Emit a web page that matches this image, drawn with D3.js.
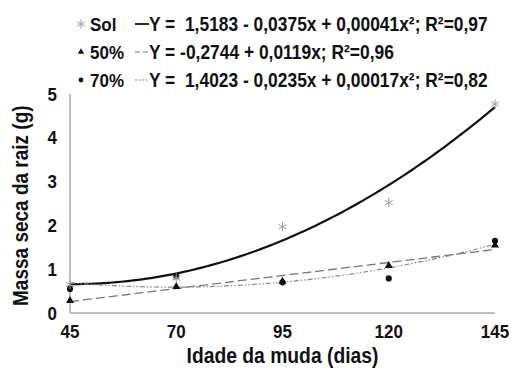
<!DOCTYPE html>
<meta charset="utf-8">
<script src="https://d3js.org/d3.v7.min.js"></script>
<style>
  body { margin: 0; background: #fff; }
  text { font-family: "Liberation Sans", Arial, sans-serif; font-weight: bold; fill: #111; }
</style>
<div id="chart"></div>
<script>

// data
var days = [45, 70, 95, 120, 145];
var sol = [0.65, 0.80, 1.97, 2.52, 4.77];
var p50 = [0.28, 0.60, 0.72, 1.08, 1.55];
var p70 = [0.55, 0.84, 0.70, 0.79, 1.65];
var yTicks = [0, 1, 2, 3, 4, 5];

// fitted equations as given in the legend (intercept, x, x^2)
var coefSol = [1.5183, -0.0375, 0.00041];
var coef50 = [-0.2744, 0.0119, 0];
var coef70 = [1.4023, -0.0235, 0.00017];
var legendNames = ["Sol", "50%", "70%"];
var legendEqs = [
  "Y =  1,5183 - 0,0375x + 0,00041x²; R²=0,97",
  "Y = -0,2744 + 0,0119x; R²=0,96",
  "Y =  1,4023 - 0,0235x + 0,00017x²; R²=0,82"
];

var width = 511, height = 375;
var margin = {top: 94, right: 16, bottom: 62, left: 70};
var stretch = 1.12; // the scanned text is a bit taller than wide

var svg = d3.select("#chart").append("svg")
  .attr("width", width)
  .attr("height", height);

var x = d3.scaleLinear().domain([45, 145]).range([margin.left, width - margin.right]);
var y = d3.scaleLinear().domain([0, 5]).range([height - margin.bottom, margin.top]);

function place(px, py) {
  return "translate(" + px + "," + py + ") scale(1," + stretch + ")";
}

// axes
svg.append("line")
  .attr("x1", x(45)).attr("x2", x(145))
  .attr("y1", y(0)).attr("y2", y(0))
  .attr("stroke", "#aaa").attr("stroke-width", 1.5);
svg.append("line")
  .attr("x1", x(45)).attr("x2", x(45))
  .attr("y1", y(0)).attr("y2", y(5))
  .attr("stroke", "#aaa").attr("stroke-width", 1.5);

svg.selectAll(".ytick").data(yTicks).enter().append("text")
  .attr("transform", function(d) { return place(x(45) - 13, y(d)); })
  .attr("dy", "0.35em")
  .attr("text-anchor", "end")
  .style("font-size", "17px")
  .text(function(d) { return d; });

svg.selectAll(".xtick").data(days).enter().append("text")
  .attr("transform", function(d) { return place(x(d), y(0) + 25); })
  .attr("text-anchor", "middle")
  .style("font-size", "17px")
  .text(function(d) { return d; });

svg.append("text")
  .attr("transform", place((x(45) + x(145)) / 2, 363))
  .attr("text-anchor", "middle")
  .style("font-size", "19.3px")
  .text("Idade da muda (dias)");

svg.append("text")
  .attr("transform", "translate(28," + y(2.45) + ") rotate(-90) scale(1," + stretch + ")")
  .attr("text-anchor", "middle")
  .style("font-size", "19px")
  .text("Massa seca da raiz  (g)");

// fitted curves
function curve(c) {
  return d3.range(45, 145.5, 1).map(function(t) {
    return [t, c[0] + c[1] * t + c[2] * t * t];
  });
}
var line = d3.line()
  .x(function(d) { return x(d[0]); })
  .y(function(d) { return y(d[1]); });

var styles = [
  {coef: coefSol, stroke: "#111", width: 2.2, dash: null},
  {coef: coef50, stroke: "#777", width: 1.3, dash: "9,4"},
  {coef: coef70, stroke: "#888", width: 1.2, dash: "5,2,1.5,2,1.5,2"}
];
styles.forEach(function(s) {
  svg.append("path")
    .datum(curve(s.coef))
    .attr("fill", "none")
    .attr("stroke", s.stroke)
    .attr("stroke-width", s.width)
    .attr("stroke-dasharray", s.dash)
    .attr("d", line);
});

// markers
var star = d3.symbol().type(d3.symbolAsterisk).size(60);
var tri = d3.symbol().type(d3.symbolTriangle).size(28);
var dot = d3.symbol().type(d3.symbolCircle).size(30);

svg.selectAll(".p70").data(days).enter().append("path")
  .attr("d", dot)
  .attr("fill", "#111")
  .attr("transform", function(d, i) { return "translate(" + x(d) + "," + y(p70[i]) + ")"; });
svg.selectAll(".p50").data(days).enter().append("path")
  .attr("d", tri)
  .attr("fill", "#111")
  .attr("transform", function(d, i) { return "translate(" + x(d) + "," + y(p50[i]) + ")"; });
svg.selectAll(".sol").data(days).enter().append("path")
  .attr("d", star)
  .attr("fill", "none")
  .attr("stroke", "#999")
  .attr("stroke-width", 1)
  .attr("transform", function(d, i) { return "translate(" + x(d) + "," + y(sol[i]) + ")"; });

// legend
var legY = [24, 52, 80];
var legMarks = [star, d3.symbol().type(d3.symbolTriangle).size(18), d3.symbol().type(d3.symbolCircle).size(18)];
legendNames.forEach(function(n, i) {
  var g = svg.append("g").attr("transform", "translate(0," + legY[i] + ")");
  var m = g.append("path").attr("d", legMarks[i]).attr("transform", "translate(81,0)");
  if (i === 0) m.attr("fill", "none").attr("stroke", "#999").attr("stroke-width", 1);
  else m.attr("fill", "#111");
  g.append("text").attr("transform", place(90, 0)).attr("dy", "0.35em").style("font-size", "17px").text(n);
  g.append("line")
    .attr("x1", 135).attr("x2", 149)
    .attr("stroke", styles[i].stroke)
    .attr("stroke-width", i === 0 ? 1.8 : 1.2)
    .attr("stroke-dasharray", i === 0 ? null : (i === 1 ? "5,3" : "2,1.5"));
  g.append("text").attr("transform", place(149, 0)).attr("dy", "0.35em").style("font-size", "17.4px")
    .attr("xml:space", "preserve")
    .style("white-space", "pre")
    .text(legendEqs[i]);
});

</script>
